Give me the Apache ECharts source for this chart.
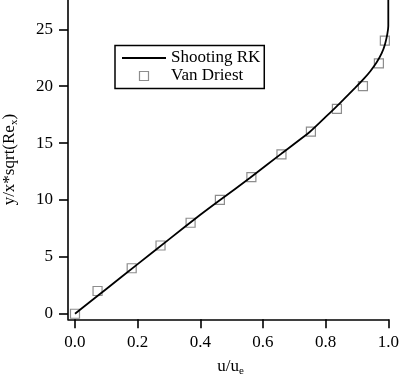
<!DOCTYPE html>
<html>
<head>
<meta charset="utf-8">
<script src="https://cdn.jsdelivr.net/npm/echarts@6/dist/echarts.min.js"></script>
<style>
html,body{margin:0;padding:0;background:#fff;}
#c{width:400px;height:375px;}
</style>
</head>
<body>
<div id="c"></div>
<script>
// Shooting RK solution curve (u/u_e, y/x*sqrt(Re_x))
const rkU = [0, 0.1, 0.2, 0.3, 0.4, 0.463, 0.559, 0.66, 0.75, 0.8, 0.836, 0.856, 0.894, 0.92, 0.942, 0.963, 0.979, 0.9895, 0.997, 1.0, 1.0];
const rkY = [0, 2.18, 4.36, 6.54, 8.7, 10.0, 11.95, 14.1, 16.0, 17.3, 18.25, 18.8, 19.85, 20.6, 21.3, 22.1, 22.9, 23.7, 24.6, 25.3, 27.6];
// Van Driest points
const vdU = [0, 0.072, 0.181, 0.273, 0.369, 0.4625, 0.563, 0.659, 0.753, 0.836, 0.919, 0.970, 0.989];
const vdY = [0, 2, 4, 6, 8, 10, 12, 14, 16, 18, 20, 22, 24];
// tick labels
const xTicks = [0, 0.2, 0.4, 0.6, 0.8, 1.0];
const yTicks = [0, 5, 10, 15, 20, 25];

const FONT = 'Liberation Serif';
const MARK = {color: 'rgba(0,0,0,0)', borderColor: '#707070', borderWidth: 1.2};
const chart = echarts.init(document.getElementById('c'), null, {renderer: 'canvas'});

chart.setOption({
  animation: false,
  backgroundColor: '#fff',
  grid: {left: 68, right: 11.7, top: 0, bottom: 55.7, containLabel: false, outerBoundsMode: 'none'},
  legend: {
    orient: 'vertical',
    left: 115, top: 45.5,
    padding: [4, 4, 4, 7],
    itemGap: 1,
    itemWidth: 44,
    itemHeight: 9,
    symbolKeepAspect: true,
    borderColor: '#000',
    borderWidth: 1.5,
    backgroundColor: '#fff',
    textStyle: {fontFamily: FONT, fontSize: 17, color: '#000'},
    data: [
      {name: 'Shooting RK', icon: 'path://M0,0 H44 V1.8 H0 Z', itemStyle: {color: '#000', borderWidth: 0}},
      {name: 'Van Driest', icon: 'path://M0,0 H10 V10 H0 Z', itemStyle: MARK}
    ]
  },
  xAxis: {
    type: 'value',
    min: -0.0223, max: 1.0,
    splitLine: {show: false},
    axisLine: {onZero: false, lineStyle: {color: '#000', width: 1.6}},
    axisTick: {length: 9, customValues: xTicks, lineStyle: {color: '#000', width: 1.6}},
    axisLabel: {customValues: xTicks, margin: 15, fontFamily: FONT, fontSize: 17, color: '#000',
      formatter: v => v.toFixed(1)},
    name: '{a|u/u}{s|e}',
    nameLocation: 'middle',
    nameGap: 37,
    nameTextStyle: {
      padding: [0, 0, 0, 5],
      rich: {
        a: {fontFamily: FONT, fontSize: 17, color: '#000', lineHeight: 20, verticalAlign: 'middle'},
        s: {fontFamily: FONT, fontSize: 11, color: '#000', lineHeight: 10, verticalAlign: 'bottom'}
      }
    }
  },
  yAxis: {
    type: 'value',
    min: -0.49, max: 27.58,
    splitLine: {show: false},
    axisLine: {onZero: false, lineStyle: {color: '#000', width: 1.6}},
    axisTick: {length: 9, customValues: yTicks, lineStyle: {color: '#000', width: 1.6}},
    axisLabel: {customValues: yTicks, margin: 15, fontFamily: FONT, fontSize: 17, color: '#000'},
    name: '{a|y/x*sqrt(Re}{s|x}{a|)}',
    nameLocation: 'middle',
    nameRotate: 90,
    nameGap: 48,
    nameTextStyle: {
      rich: {
        a: {fontFamily: FONT, fontSize: 17, color: '#000', lineHeight: 20, verticalAlign: 'middle'},
        s: {fontFamily: FONT, fontSize: 11, color: '#000', lineHeight: 10, verticalAlign: 'bottom'}
      }
    }
  },
  series: [
    {
      name: 'Van Driest',
      type: 'scatter',
      symbol: 'rect',
      symbolSize: 9,
      z: 2,
      itemStyle: MARK,
      data: vdU.map((u, i) => [u, vdY[i]])
    },
    {
      name: 'Shooting RK',
      type: 'line',
      symbol: 'none',
      showSymbol: false,
      smooth: 0.2,
      clip: false,
      z: 3,
      lineStyle: {color: '#000', width: 1.8},
      itemStyle: {color: '#000'},
      data: rkU.map((u, i) => [u, rkY[i]])
    }
  ]
});
</script>
</body>
</html>
